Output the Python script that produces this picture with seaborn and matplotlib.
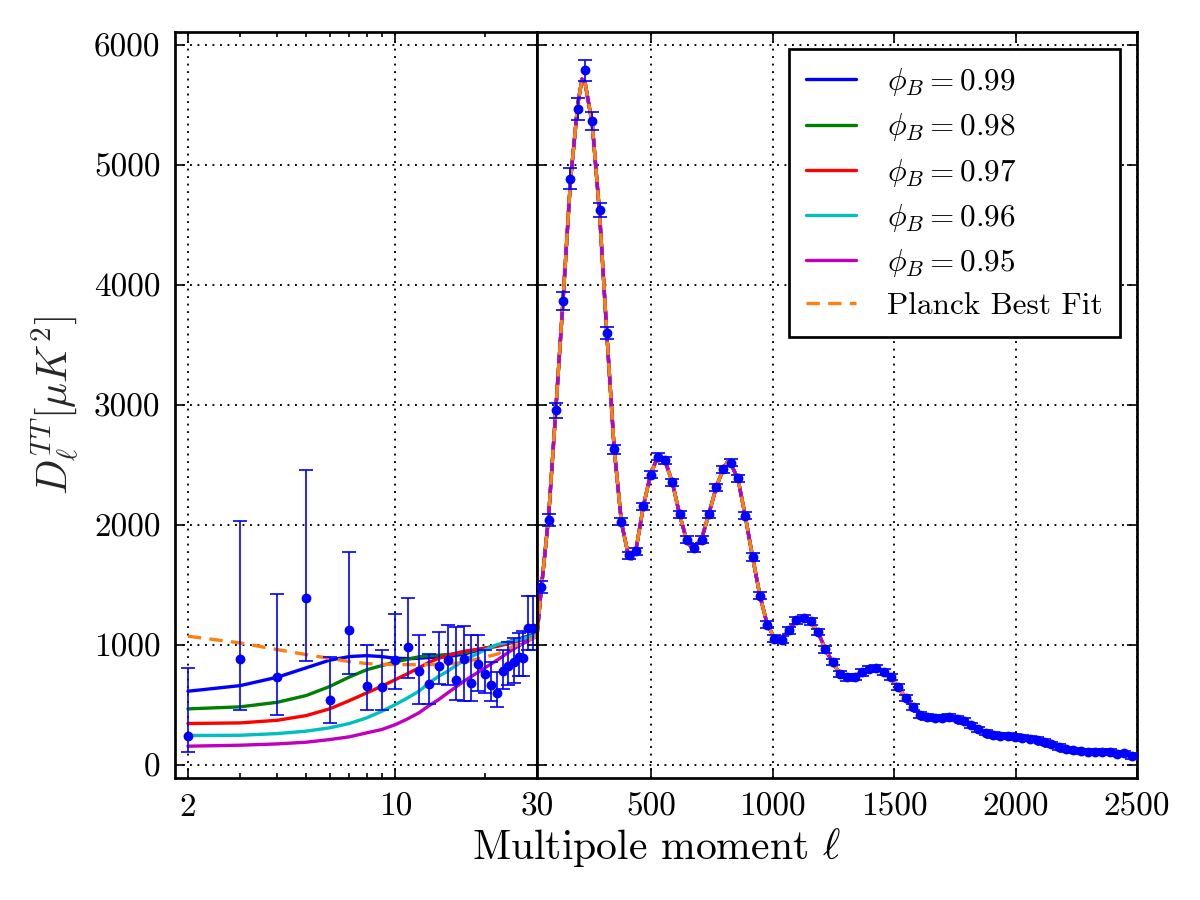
import numpy as np
import pandas as pd
import matplotlib
matplotlib.use("Agg")
import matplotlib.pyplot as plt
import seaborn as sns
from matplotlib.ticker import FixedLocator, NullFormatter

# ---------------- data ----------------
# low-ell unbinned data points
ell_low = [2, 3, 4, 5, 6, 7, 8, 9, 10, 11, 12, 13, 14, 15, 16, 17, 18, 19, 20,
           21, 22, 23, 24, 25, 26, 27, 28, 29]
D_low = [242, 883, 728, 1389, 542, 1119, 653, 647, 875, 983, 783, 675, 825, 875,
         706, 881, 681, 839, 758, 667, 597, 778, 820, 856, 897, 887, 1139, 1139]
D_low_top = [806, 2033, 1425, 2456, 894, 1770, 994, 958, 1258, 1389, 1083, 925,
             1108, 1167, 1147, 1153, 1083, 1083, 958, 856, 770, 958, 1019, 1056,
             1097, 1111, 1403, 1403]
D_low_bot = [103, 458, 417, 861, 347, 756, 453, 453, 631, 722, 506, 506, 672, 667,
             542, 533, 533, 611, 597, 533, 481, 631, 667, 681, 736, 736, 958, 958]

# high-ell binned data points
ell_hi = [47.5, 77.5, 107.5, 137.5, 167.5, 197.5, 227.5, 257.5, 287.5, 317.5,
          347.5, 377.5, 407.5, 437.5, 467.5, 497.5, 527.5, 557.5, 587.5, 617.5,
          647.5, 677.5, 707.5, 737.5, 767.5, 797.5, 827.5, 857.5, 887.5, 917.5,
          947.5, 977.5, 1007.5, 1037.5, 1067.5, 1097.5, 1127.5, 1157.5, 1187.5,
          1217.5, 1247.5, 1277.5, 1307.5, 1337.5, 1367.5, 1397.5, 1427.5, 1457.5,
          1487.5, 1517.5, 1547.5, 1577.5, 1607.5, 1637.5, 1667.5, 1697.5, 1727.5,
          1757.5, 1787.5, 1817.5, 1847.5, 1877.5, 1907.5, 1937.5, 1967.5, 1997.5,
          2027.5, 2057.5, 2087.5, 2117.5, 2147.5, 2177.5, 2207.5, 2237.5, 2267.5,
          2297.5, 2327.5, 2357.5, 2387.5, 2417.5, 2447.5, 2477.5]
D_hi = [1480, 2037, 2955, 3865, 4886, 5465, 5788, 5367, 4624, 3595,
        2627, 2026, 1745, 1778, 2154, 2415, 2568, 2538, 2354, 2087,
        1876, 1806, 1876, 2087, 2310, 2460, 2515, 2387, 2076, 1731,
        1408, 1166, 1050, 1041, 1119, 1202, 1221, 1194, 1105,
        960, 858, 752, 726, 729, 768, 797, 803, 770,
        727, 647, 556, 480, 415, 394, 390, 390, 397,
        383, 362, 327, 294, 266, 246, 237, 236, 231,
        222, 216, 207, 187, 167, 145, 127, 117, 111,
        108, 106, 105, 104, 90, 92, 70]
err_hi = [50, 50, 63, 77, 88, 89, 87, 76, 62, 49,
          37, 32, 30, 30, 30, 30, 30, 30, 30, 30,
          30, 30, 30, 30, 30, 30, 30, 30, 30, 30,
          30, 30, 28, 28, 28, 28, 28, 28, 28,
          26, 26, 26, 26, 26, 26, 26, 26, 26,
          25, 24, 24, 24, 24, 24, 24, 24, 24,
          23, 23, 23, 23, 23, 23, 23, 23, 23,
          22, 22, 22, 22, 22, 22, 22, 22, 22,
          22, 22, 22, 22, 22, 22, 22]

# model curves, low-ell part (log axis)
ell_mod_low = [2, 3, 4, 5, 6, 7, 8, 9, 10, 11, 12, 13, 14, 15, 17, 20, 22, 25, 27, 30]
phi_labels = [r"$\phi_B=0.99$", r"$\phi_B=0.98$", r"$\phi_B=0.97$",
              r"$\phi_B=0.96$", r"$\phi_B=0.95$"]
mod_099 = [611, 658, 728, 806, 870, 900, 908, 900, 886, 883, 886, 892, 895, 900,
           920, 968, 990, 1035, 1058, 1097]
mod_098 = [464, 481, 519, 575, 650, 730, 790, 825, 856, 878, 898, 908, 912, 917,
           930, 970, 990, 1035, 1056, 1089]
mod_097 = [342, 347, 369, 408, 464, 533, 597, 653, 708, 758, 806, 853, 885, 910,
           944, 970, 985, 1019, 1042, 1075]
mod_096 = [242, 244, 258, 278, 306, 342, 389, 444, 500, 556, 611, 681, 736, 778,
           869, 955, 1000, 1030, 1050, 1083]
mod_095 = [153, 161, 172, 186, 208, 231, 264, 292, 333, 381, 431, 492, 542, 597,
           694, 805, 870, 964, 1010, 1070]
planck_low = [1070, 1014, 958, 917, 885, 858, 842, 836, 833, 833, 832, 833, 834,
              836, 853, 895, 920, 986, 1010, 1075]

# model curve, high-ell part (all models coincide with the best fit)
ell_mod_hi = [30, 47.5, 77.5, 107.5, 137.5, 167.5, 197.5, 215, 227.5, 257.5,
              287.5, 317.5, 347.5, 377.5, 407.5, 420, 437.5, 467.5, 497.5, 530,
              557.5, 587.5, 617.5, 647.5, 670, 707.5, 737.5, 767.5, 797.5, 815,
              827.5, 857.5, 887.5, 917.5, 947.5, 977.5, 1007.5, 1025, 1037.5,
              1067.5, 1097.5, 1125, 1157.5, 1187.5, 1217.5, 1247.5, 1277.5, 1300,
              1337.5, 1367.5, 1397.5, 1427.5, 1457.5, 1487.5, 1517.5, 1547.5,
              1577.5, 1607.5, 1637.5, 1667.5, 1697.5, 1727.5, 1757.5, 1787.5,
              1817.5, 1847.5, 1877.5, 1907.5, 1937.5, 1967.5, 1997.5, 2027.5,
              2057.5, 2087.5, 2117.5, 2147.5, 2177.5, 2207.5, 2237.5, 2267.5,
              2297.5, 2327.5, 2357.5, 2387.5, 2417.5, 2447.5, 2477.5, 2500]
mod_hi = [1075, 1460, 2060, 2960, 3880, 4860, 5500, 5715, 5690, 5340,
          4600, 3590, 2640, 2020, 1730, 1715, 1790, 2150, 2420, 2580,
          2530, 2350, 2080, 1860, 1800, 1880, 2090, 2310, 2470, 2525,
          2510, 2380, 2070, 1730, 1410, 1170, 1055, 1040, 1050,
          1120, 1200, 1220, 1190, 1100, 960, 850, 755, 725,
          735, 770, 800, 800, 770, 720, 645, 555,
          480, 418, 395, 390, 392, 395, 382, 360,
          327, 295, 268, 248, 238, 235, 230, 222,
          215, 205, 187, 166, 146, 128, 118, 112,
          108, 106, 104, 102, 95, 85, 72, 65]

colors = ["#0000ff", "#008000", "#ff0000", "#00bfbf", "#bf00bf"]
planck_color = "#ff7f0e"

# ---------------- style ----------------
sns.set_style("ticks")
plt.rcParams.update({
    "font.family": "serif",
    "font.serif": ["cmr10", "DejaVu Serif"],
    "mathtext.fontset": "cm",
    "axes.unicode_minus": False,
    "axes.formatter.use_mathtext": True,
    "axes.edgecolor": "black",
    "axes.linewidth": 1.3,
    "xtick.color": "black",
    "ytick.color": "black",
    "text.color": "black",
})

fig = plt.figure(figsize=(8, 6), dpi=150)
ax1 = fig.add_axes([0.1458, 0.1356, 0.3017, 0.8289])
ax2 = fig.add_axes([0.4475, 0.1356, 0.5, 0.8289])

lw = 1.6
dash = (0, (4, 2.5))
# --- left panel (log) ---
mods_low = [mod_099, mod_098, mod_097, mod_096, mod_095]
for c, m in zip(colors, mods_low):
    sns.lineplot(x=ell_mod_low, y=m, ax=ax1, color=c, linewidth=lw, zorder=2)
sns.lineplot(x=ell_mod_low, y=planck_low, ax=ax1, color=planck_color,
             linewidth=lw, linestyle=dash, zorder=2.5)
yerr_low = [np.array(D_low) - np.array(D_low_bot), np.array(D_low_top) - np.array(D_low)]
ax1.errorbar(ell_low, D_low, yerr=yerr_low, fmt="o", color="#0000ff",
             markersize=3.7, elinewidth=0.8, capsize=3.5, capthick=0.8, zorder=3)

# --- right panel (linear) ---
for c, lab in zip(colors, phi_labels):
    sns.lineplot(x=ell_mod_hi, y=mod_hi, ax=ax2, color=c, linewidth=lw,
                 label=lab, zorder=2)
sns.lineplot(x=ell_mod_hi, y=mod_hi, ax=ax2, color=planck_color, linewidth=lw,
             linestyle=dash, label="Planck Best Fit", zorder=2.5)
ax2.errorbar(ell_hi, D_hi, yerr=err_hi, fmt="o", color="#0000ff",
             markersize=3.7, elinewidth=0.8, capsize=3.5, capthick=0.8, zorder=3)

# ---------------- axes ----------------
ylim = (-112, 6108)
yticks = [0, 1000, 2000, 3000, 4000, 5000, 6000]
for ax in (ax1, ax2):
    ax.set_ylim(*ylim)
    ax.set_yticks(yticks)
    ax.grid(True, which="major", linestyle=(0, (1, 3)), color="black", linewidth=0.9)
    ax.tick_params(which="both", direction="in", top=True, right=True,
                   bottom=True, left=True, labelsize=16, pad=7)
    ax.tick_params(which="major", length=5, width=0.8)
    ax.tick_params(which="minor", length=2.5, width=0.8)
    ax.set_xlabel("")
    ax.set_ylabel("")

ax1.set_xscale("log")
ax1.set_xlim(1.808, 30)
ax1.xaxis.set_major_locator(FixedLocator([2, 10, 30]))
ax1.set_xticklabels(["2", "10", "30"])
ax1.xaxis.set_minor_locator(FixedLocator([3, 4, 5, 6, 7, 8, 9, 20]))
ax1.xaxis.set_minor_formatter(NullFormatter())
ax1.set_yticklabels([str(v) for v in yticks])
ax1.set_ylabel(r"$D_\ell^{TT}[\mu K^2]$", fontsize=20, labelpad=6)

ax2.set_xlim(30, 2500)
ax2.set_xticks([500, 1000, 1500, 2000, 2500])
ax2.set_xticklabels(["500", "1000", "1500", "2000", "2500"])
ax2.tick_params(labelleft=False)

fig.text(0.547, 0.058, r"Multipole moment $\ell$", fontsize=20,
         ha="center", va="center")

handles, labels = ax2.get_legend_handles_labels()
leg = ax2.legend(handles, labels, loc="upper right", fontsize=15,
                 frameon=True, fancybox=False, framealpha=1, edgecolor="black",
                 handlelength=1.6, handletextpad=1.0, labelspacing=0.42,
                 borderpad=0.55, borderaxespad=0.55)
leg.get_frame().set_linewidth(1.3)

fig.savefig("out.png", dpi=150)
